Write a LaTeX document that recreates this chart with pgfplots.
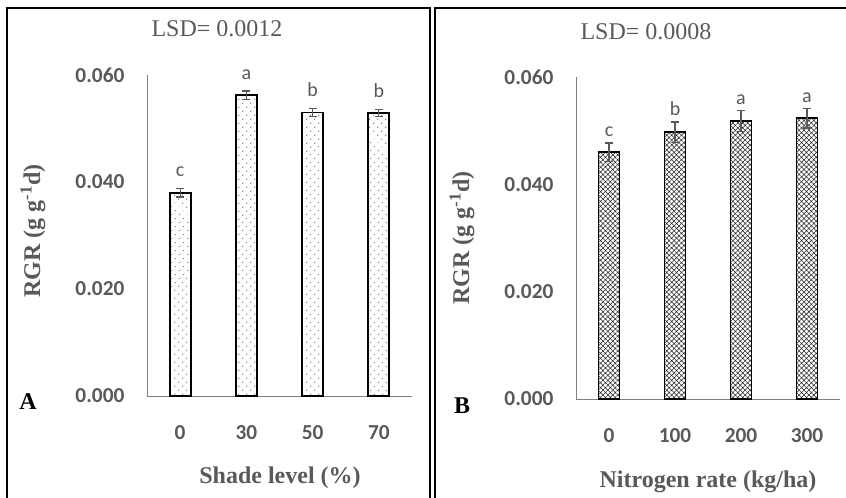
\documentclass[border=0pt]{standalone}
\usepackage{fontspec}
\setmainfont{Liberation Serif}
\newfontfamily\calibri{Carlito}
\usepackage{pgfplots}
\usepackage{pgfplotstable}
\pgfplotsset{compat=1.18}
\usetikzlibrary{patterns.meta}

\definecolor{txtgray}{RGB}{89,89,89}
\definecolor{axgray}{RGB}{128,128,128}

% Relative growth rate by shade level
\pgfplotstableread{
x val err lab
0 0.0380 0.0008 c
1 0.0562 0.0008 a
2 0.0530 0.0008 b
3 0.0529 0.0007 b
}\shadetab

% Relative growth rate by nitrogen rate
\pgfplotstableread{
x val err lab
0 0.0460 0.0017 c
1 0.0497 0.0019 b
2 0.0518 0.0019 a
3 0.0523 0.0018 a
}\nitrotab

\pgfplotsset{
  rgrpanel/.style={
    scale only axis,
    axis x line*=bottom, axis y line*=left,
    axis line style={axgray, line width=0.7pt, -},
    xmin=-0.5, xmax=3.5, ymin=0, ymax=0.06,
    xtick={0,1,2,3}, ytick={0,0.02,0.04,0.06},
    scaled y ticks=false,
    major tick length=0pt,
    ticklabel style={font=\calibri\bfseries\fontsize{16}{16}\selectfont, text=txtgray},
    /pgf/number format/fixed,
    /pgf/number format/fixed zerofill,
    /pgf/number format/precision=3,
    /pgf/number format/assume math mode=true,
    yticklabel style={anchor=east, inner sep=0pt, xshift=-16.75pt},
    xticklabel style={anchor=center, inner sep=0pt, yshift=-27.5pt},
    clip=false,
  },
  rgrbar/.style={
    ybar, bar width=15.75pt, bar shift=0pt,
    draw=black, line width=1.4pt,
    error bars/y dir=both, error bars/y explicit,
    error bars/error bar style={line width=0.9pt, txtgray},
    error bars/error mark options={rotate=90, mark size=3pt, line width=0.9pt, txtgray},
  },
  rgrletters/.style={
    draw=none, mark=none,
    nodes near coords, point meta=explicit symbolic,
    every node near coord/.append style={anchor=base, yshift=#1, inner sep=0pt,
      font=\calibri\fontsize{15}{15}\selectfont, text=txtgray},
  },
}

\begin{document}
\begin{tikzpicture}
\useasboundingbox (0,0) rectangle (634.5pt,373.5pt);

% panel frames
\draw[line width=1pt, black] (5.25pt,-5pt) -- (5.25pt,367.5pt) -- (322.5pt,367.5pt) -- (322.5pt,-5pt);
\draw[line width=1pt, black] (326.25pt,-5pt) -- (326.25pt,367.5pt) -- (640pt,367.5pt);

% panel A
\begin{axis}[rgrpanel, at={(110.25pt,76.5pt)}, anchor=south west,
  width=198.75pt, height=240.75pt,
  xticklabels={0,30,50,70}]
\addplot[rgrbar, pattern={Dots[distance=4pt, angle=45, radius=0.4pt]}, pattern color=black]
  table[x=x, y=val, y error=err]{\shadetab};
\addplot[rgrletters=9pt]
  table[x=x, y expr=\thisrow{val}+\thisrow{err}, meta=lab]{\shadetab};
\end{axis}

% panel B
\begin{axis}[rgrpanel, at={(432pt,74.25pt)}, anchor=south west,
  width=198pt, height=241.5pt,
  xticklabels={0,100,200,300}]
\addplot[rgrbar, pattern={Hatch[angle=45, distance=2.6pt, line width=0.4pt]}, pattern color=black!85]
  table[x=x, y=val, y error=err]{\nitrotab};
\addplot[rgrletters=4.8pt]
  table[x=x, y expr=\thisrow{val}+\thisrow{err}, meta=lab]{\nitrotab};
\end{axis}

% titles and labels
\node[text=txtgray, font=\fontsize{18}{18}\selectfont] at (162.75pt,351.75pt) {LSD= 0.0012};
\node[text=txtgray, font=\fontsize{18}{18}\selectfont] at (484.5pt,349.5pt) {LSD= 0.0008};
\node[text=txtgray, font=\bfseries\fontsize{18}{18}\selectfont, rotate=90] at (24.75pt,200.25pt) {RGR (g g\textsuperscript{-1}d)};
\node[text=txtgray, font=\bfseries\fontsize{18}{18}\selectfont, rotate=90] at (346.5pt,195pt) {RGR (g g\textsuperscript{-1}d)};
\node[text=txtgray, font=\bfseries\fontsize{18}{18}\selectfont] at (210pt,15pt) {Shade level (\%)};
\node[text=txtgray, font=\bfseries\fontsize{18}{18}\selectfont] at (531pt,12pt) {Nitrogen rate (kg/ha)};
\node[font=\bfseries\fontsize{18}{18}\selectfont] at (21pt,72pt) {A};
\node[font=\bfseries\fontsize{18}{18}\selectfont] at (346.5pt,69pt) {B};
\end{tikzpicture}
\end{document}
